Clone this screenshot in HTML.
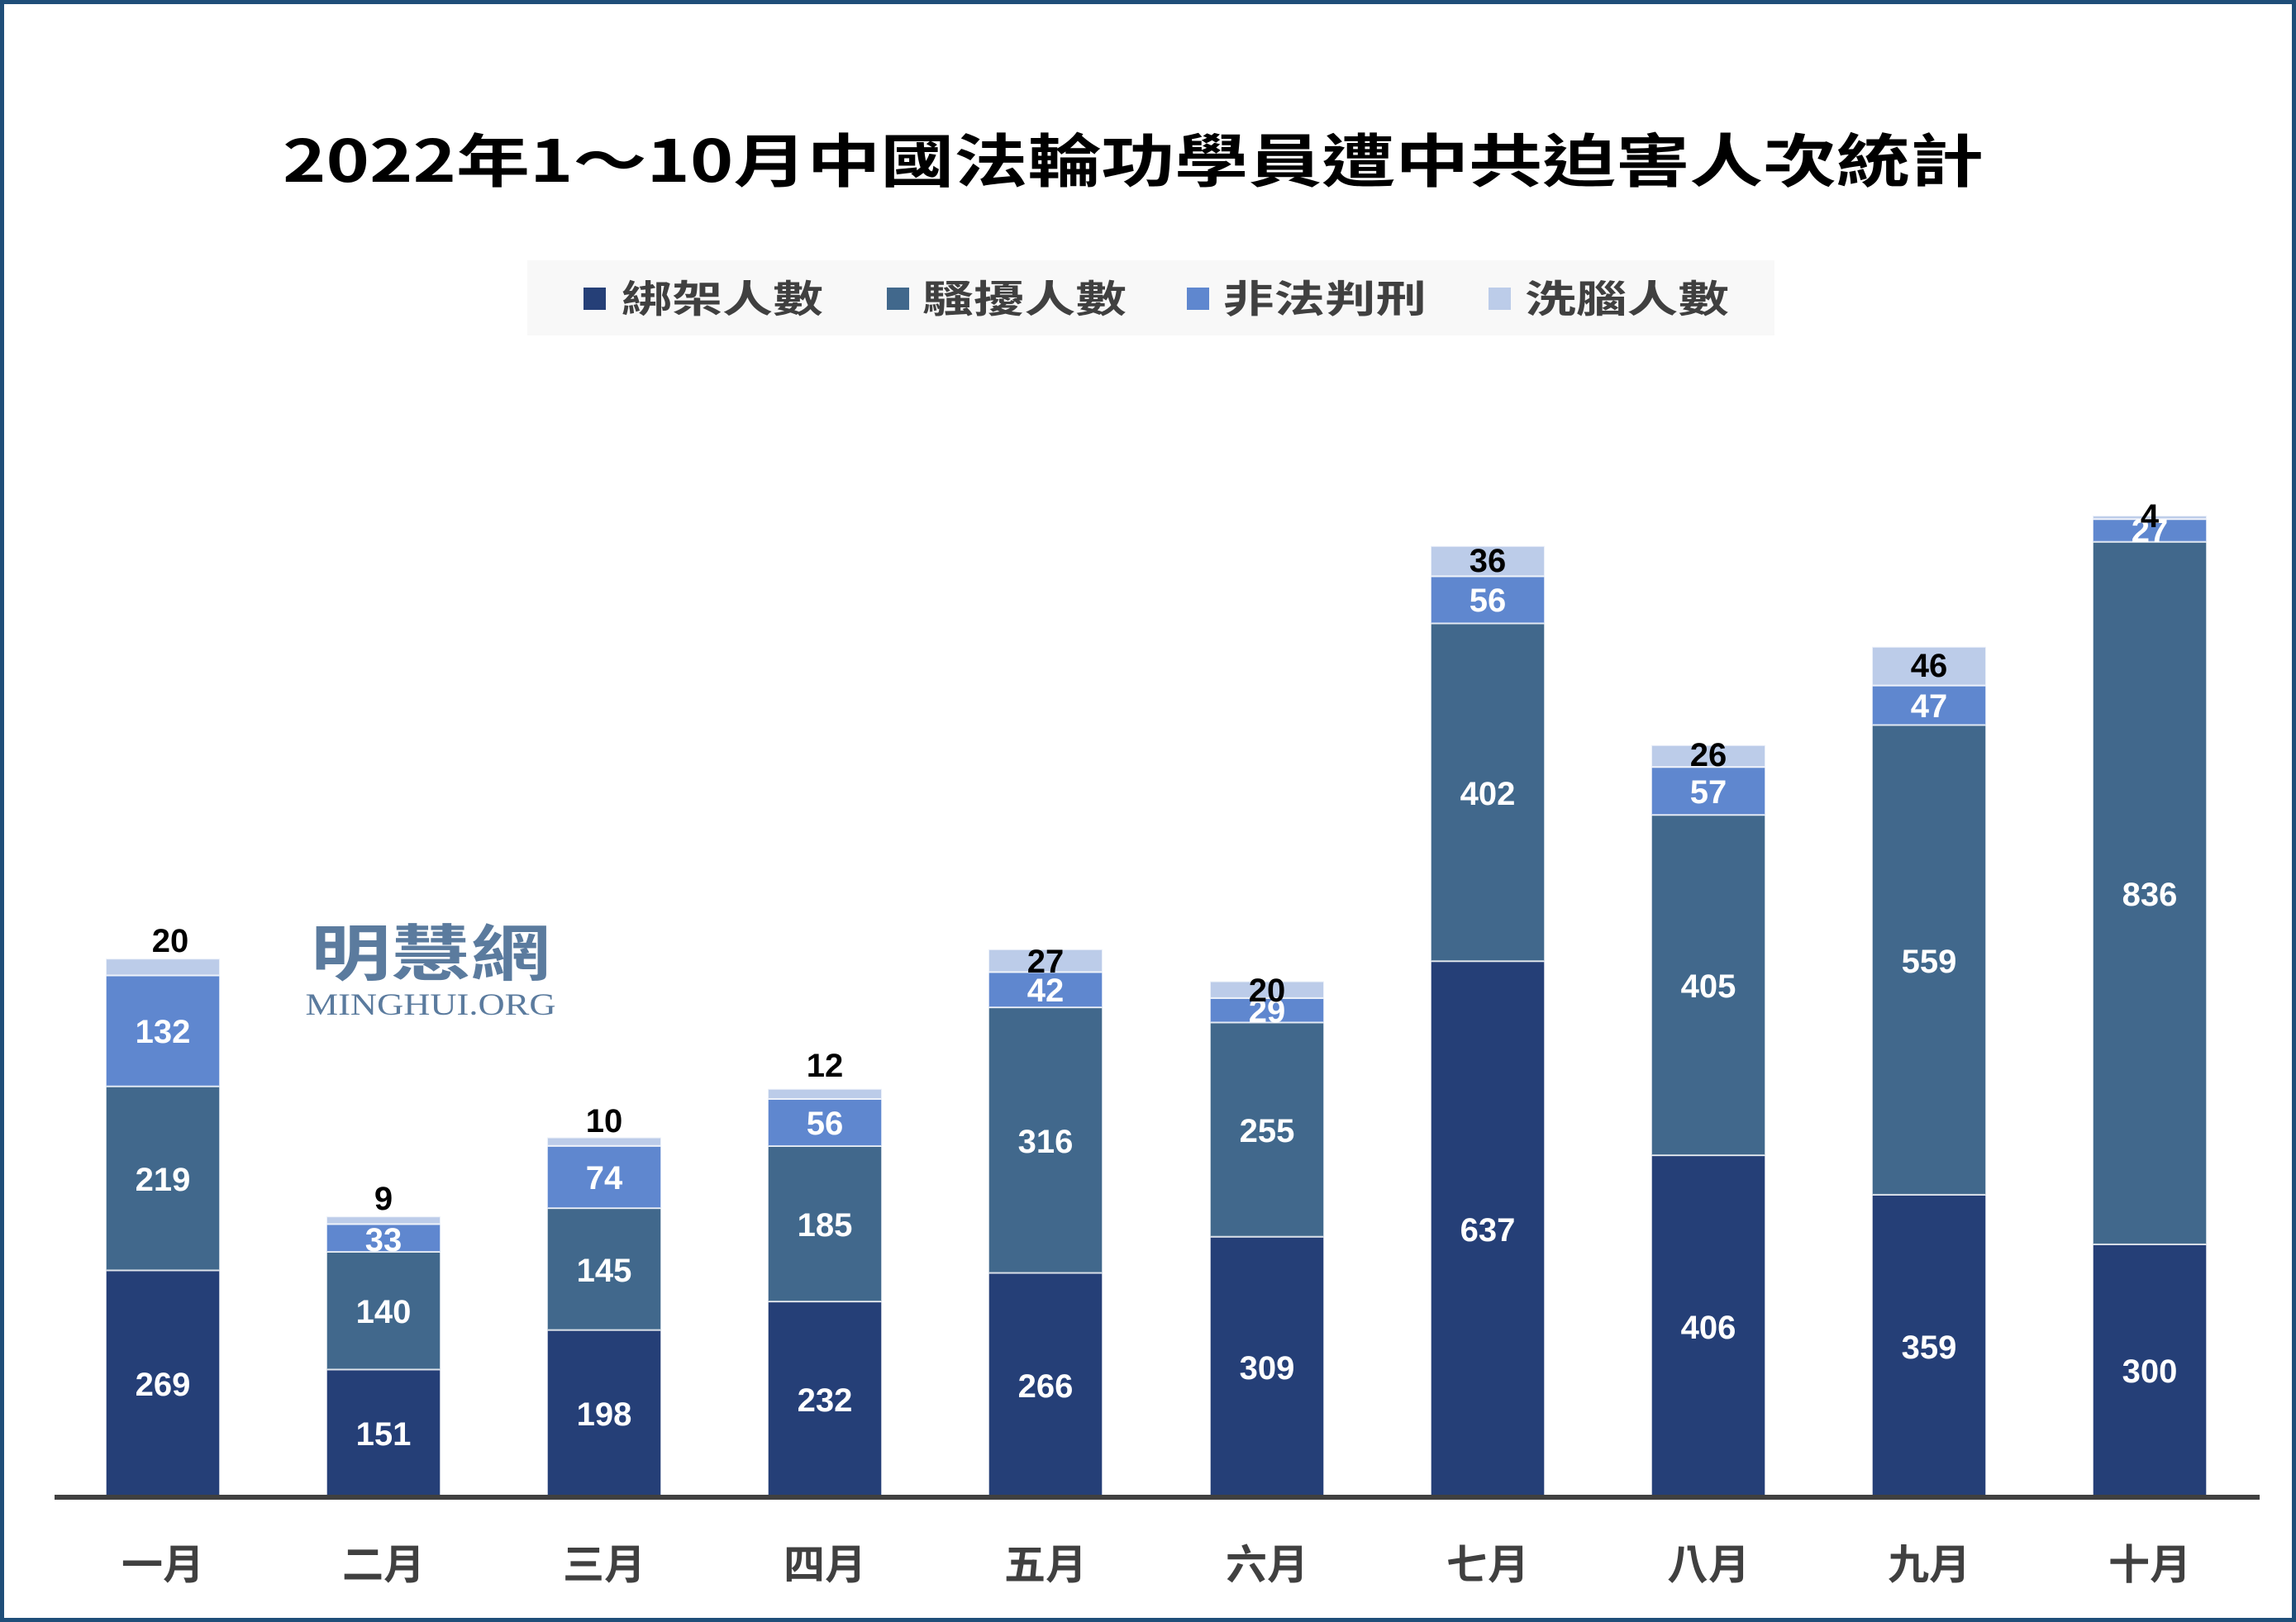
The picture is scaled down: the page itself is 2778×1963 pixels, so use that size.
<!DOCTYPE html>
<html><head><meta charset="utf-8"><style>
html,body{margin:0;padding:0;background:#fff}
svg{display:block}
</style></head><body>
<svg width="2778" height="1963" viewBox="0 0 2778 1963" xmlns="http://www.w3.org/2000/svg">
<rect x="0" y="0" width="2778" height="1963" fill="#fff"/>
<rect x="2.5" y="2.5" width="2773" height="1958" fill="none" stroke="#1f4e79" stroke-width="5"/>
<text x="1371" y="220" font-family="'Noto Sans CJK TC','Noto Sans CJK SC',sans-serif" font-weight="bold" font-size="70" text-anchor="middle" textLength="2058" lengthAdjust="spacingAndGlyphs" fill="#000">2022年1～10月中國法輪功學員遭中共迫害人次統計</text>
<rect x="638" y="315" width="1509" height="91" fill="#f8f8f8"/>
<g font-family="'Noto Sans CJK TC',sans-serif" font-weight="bold" font-size="46" fill="#404040">
<rect x="706" y="348" width="27" height="27" fill="#253f77"/><text x="752" y="378" textLength="244" lengthAdjust="spacingAndGlyphs">綁架人數</text>
<rect x="1073" y="348" width="27" height="27" fill="#41688c"/><text x="1116" y="378" textLength="247" lengthAdjust="spacingAndGlyphs">騷擾人數</text>
<rect x="1436" y="348" width="27" height="27" fill="#5f87cf"/><text x="1480" y="378" textLength="246" lengthAdjust="spacingAndGlyphs">非法判刑</text>
<rect x="1801" y="348" width="27" height="27" fill="#bccce9"/><text x="1845" y="378" textLength="247" lengthAdjust="spacingAndGlyphs">洗腦人數</text>
</g>
<text x="521" y="1180" font-family="'Noto Sans CJK TC',sans-serif" font-weight="bold" font-size="74" text-anchor="middle" textLength="290" lengthAdjust="spacingAndGlyphs" fill="#5b7b9e">明慧網</text>
<text x="521" y="1228" font-family="'Liberation Serif',serif" font-size="37" text-anchor="middle" textLength="303" lengthAdjust="spacingAndGlyphs" fill="#5b7b9e">MINGHUI.ORG</text>
<g stroke="#fff" stroke-opacity="0.7" stroke-width="2">
<rect x="128" y="1537.4" width="138" height="273.6" fill="#253f77"/><rect x="128" y="1314.7" width="138" height="222.7" fill="#41688c"/><rect x="128" y="1180.5" width="138" height="134.2" fill="#5f87cf"/><rect x="128" y="1160.2" width="138" height="20.3" fill="#bccce9"/>
<rect x="395" y="1657.4" width="138" height="153.6" fill="#253f77"/><rect x="395" y="1515" width="138" height="142.4" fill="#41688c"/><rect x="395" y="1481.4" width="138" height="33.6" fill="#5f87cf"/><rect x="395" y="1472.2" width="138" height="9.2" fill="#bccce9"/>
<rect x="662" y="1609.6" width="138" height="201.4" fill="#253f77"/><rect x="662" y="1462.1" width="138" height="147.5" fill="#41688c"/><rect x="662" y="1386.8" width="138" height="75.3" fill="#5f87cf"/><rect x="662" y="1376.6" width="138" height="10.2" fill="#bccce9"/>
<rect x="929" y="1575.1" width="138" height="235.9" fill="#253f77"/><rect x="929" y="1387" width="138" height="188.1" fill="#41688c"/><rect x="929" y="1330" width="138" height="57" fill="#5f87cf"/><rect x="929" y="1317.8" width="138" height="12.2" fill="#bccce9"/>
<rect x="1196" y="1540.5" width="138" height="270.5" fill="#253f77"/><rect x="1196" y="1219.1" width="138" height="321.4" fill="#41688c"/><rect x="1196" y="1176.4" width="138" height="42.7" fill="#5f87cf"/><rect x="1196" y="1148.9" width="138" height="27.5" fill="#bccce9"/>
<rect x="1464" y="1496.7" width="138" height="314.3" fill="#253f77"/><rect x="1464" y="1237.4" width="138" height="259.3" fill="#41688c"/><rect x="1464" y="1207.9" width="138" height="29.5" fill="#5f87cf"/><rect x="1464" y="1187.6" width="138" height="20.3" fill="#bccce9"/>
<rect x="1731" y="1163.2" width="138" height="647.8" fill="#253f77"/><rect x="1731" y="754.4" width="138" height="408.8" fill="#41688c"/><rect x="1731" y="697.4" width="138" height="57" fill="#5f87cf"/><rect x="1731" y="660.8" width="138" height="36.6" fill="#bccce9"/>
<rect x="1998" y="1398.1" width="138" height="412.9" fill="#253f77"/><rect x="1998" y="986.2" width="138" height="411.9" fill="#41688c"/><rect x="1998" y="928.2" width="138" height="58" fill="#5f87cf"/><rect x="1998" y="901.8" width="138" height="26.4" fill="#bccce9"/>
<rect x="2265" y="1445.9" width="138" height="365.1" fill="#253f77"/><rect x="2265" y="877.4" width="138" height="568.5" fill="#41688c"/><rect x="2265" y="829.6" width="138" height="47.8" fill="#5f87cf"/><rect x="2265" y="782.8" width="138" height="46.8" fill="#bccce9"/>
<rect x="2532" y="1505.9" width="138" height="305.1" fill="#253f77"/><rect x="2532" y="655.7" width="138" height="850.2" fill="#41688c"/><rect x="2532" y="628.2" width="138" height="27.5" fill="#5f87cf"/><rect x="2532" y="624.1" width="138" height="4.1" fill="#bccce9"/>
</g>
<rect x="66" y="1809" width="2668" height="6" fill="#404040"/>
<g font-family="'Liberation Sans',sans-serif" font-weight="bold" font-size="40" text-anchor="middle" dominant-baseline="central" fill="#fff">
<text x="197" y="1676">269</text><text x="197" y="1428">219</text><text x="197" y="1249">132</text>
<text x="464" y="1736">151</text><text x="464" y="1588">140</text><text x="464" y="1501">33</text>
<text x="731" y="1712">198</text><text x="731" y="1538">145</text><text x="731" y="1426">74</text>
<text x="998" y="1695">232</text><text x="998" y="1483">185</text><text x="998" y="1360">56</text>
<text x="1265" y="1678">266</text><text x="1265" y="1382">316</text><text x="1265" y="1199">42</text>
<text x="1533" y="1656">309</text><text x="1533" y="1369">255</text><text x="1533" y="1224">29</text>
<text x="1800" y="1489">637</text><text x="1800" y="961">402</text><text x="1800" y="727">56</text>
<text x="2067" y="1607">406</text><text x="2067" y="1194">405</text><text x="2067" y="959">57</text>
<text x="2334" y="1631">359</text><text x="2334" y="1164">559</text><text x="2334" y="855">47</text>
<text x="2601" y="1660">300</text><text x="2601" y="1083">836</text><text x="2601" y="643">27</text>
</g>
<g font-family="'Liberation Sans',sans-serif" font-weight="bold" font-size="40" text-anchor="middle" dominant-baseline="central" fill="#000">
<text x="206" y="1139">20</text><text x="464" y="1451">9</text><text x="731" y="1357">10</text><text x="998" y="1290">12</text>
<text x="1265" y="1164">27</text><text x="1533" y="1199">20</text><text x="1800" y="679">36</text><text x="2067" y="914">26</text>
<text x="2334" y="806">46</text><text x="2601" y="625">4</text>
</g>
<g font-family="'Noto Sans CJK TC',sans-serif" font-weight="bold" font-size="50" text-anchor="middle" dominant-baseline="central" fill="#404040">
<text x="197" y="1890">一月</text><text x="464" y="1890">二月</text><text x="731" y="1890">三月</text><text x="998" y="1890">四月</text><text x="1265" y="1890">五月</text>
<text x="1533" y="1890">六月</text><text x="1800" y="1890">七月</text><text x="2067" y="1890">八月</text><text x="2334" y="1890">九月</text><text x="2601" y="1890">十月</text>
</g>
</svg>
</body></html>
